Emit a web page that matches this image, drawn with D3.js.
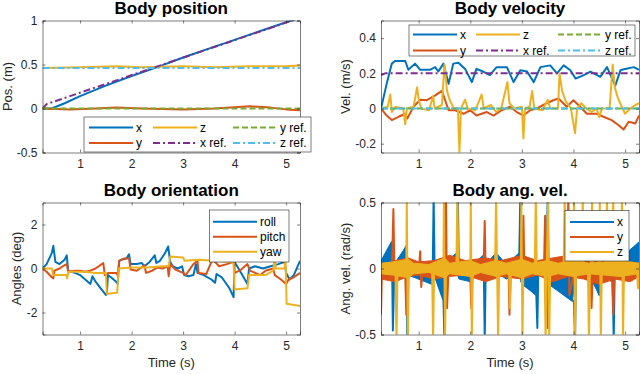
<!DOCTYPE html>
<html>
<head>
<meta charset="utf-8">
<script src="https://cdn.jsdelivr.net/npm/d3@7"></script>
<style>
  body { margin: 0; background: #fff; }
  svg { display: block; font-family: "Liberation Sans", Arial, sans-serif; }
</style>
</head>
<body>
<script>
// time axis shared by all four panels
var T_RANGE = [0.27, 5.27];
var T_TICKS = [1, 2, 3, 4, 5];

// body position (m)
var posX = [[0.27,0],[0.45,0],[0.7,0.06],[1.0,0.14],[1.5,0.26],[2.0,0.37],[2.5,0.47],[3.0,0.58],[3.5,0.68],[4.0,0.78],[4.5,0.88],[5.1,1.0],[5.27,1.03]];
var posY = [[0.27,0],[0.8,-0.01],[1.3,0],[1.7,0.01],[2.2,0],[3.0,-0.01],[3.6,0],[4.3,0.025],[4.7,0.01],[5.0,-0.01],[5.27,-0.02]];
var posZ = [[0.27,0.46],[1.0,0.47],[1.7,0.48],[2.2,0.47],[3.0,0.48],[3.6,0.47],[4.3,0.48],[5.0,0.48],[5.27,0.49]];
var posXref = [[0.27,0],[0.35,0.05],[5.27,1.03]];
var posYref = [[0.27,0],[5.27,0]];
var posZref = [[0.27,0.46],[5.27,0.46]];

// body velocity (m/s)
var velX = [[0.27,0],[0.38,0.14],[0.48,0.255],[0.54,0.27],[0.74,0.27],[0.8,0.22],[0.93,0.255],[1.03,0.22],[1.22,0.22],[1.32,0.235],[1.38,0.21],[1.48,0.255],[1.58,0.14],[1.67,0.255],[1.77,0.26],[1.9,0.225],[2.03,0.15],[2.12,0.225],[2.25,0.21],[2.38,0.19],[2.51,0.235],[2.71,0.235],[2.84,0.15],[2.97,0.217],[3.1,0.21],[3.23,0.15],[3.36,0.235],[3.55,0.245],[3.68,0.2],[3.81,0.245],[3.94,0.217],[4.04,0.17],[4.2,0.19],[4.33,0.21],[4.52,0.18],[4.65,0.235],[4.81,0.13],[4.91,0.217],[5.0,0.225],[5.17,0.235],[5.27,0.22]];
var velY = [[0.27,0],[0.38,-0.04],[0.48,-0.066],[0.61,-0.047],[0.74,-0.03],[0.78,-0.057],[0.9,0.01],[1.03,0.05],[1.16,0.047],[1.32,0.075],[1.45,0.1],[1.58,-0.01],[1.71,-0.01],[1.87,-0.03],[2.0,-0.01],[2.12,-0.04],[2.32,-0.02],[2.45,-0.04],[2.61,-0.01],[2.77,0.01],[2.9,-0.02],[3.03,-0.04],[3.16,-0.01],[3.29,0],[3.48,0.03],[3.61,0.047],[3.71,0.057],[3.87,0.01],[4.0,0.047],[4.13,0.01],[4.26,-0.03],[4.45,-0.03],[4.58,-0.047],[4.74,-0.066],[4.87,-0.094],[4.97,-0.12],[5.07,-0.075],[5.2,-0.085],[5.27,-0.04]];
var velZ = [[0.27,0],[0.4,0.01],[0.45,0.08],[0.48,-0.02],[0.55,0.01],[0.7,0],[0.74,-0.09],[0.77,0],[0.9,0.01],[0.97,0.12],[1.0,0.05],[1.05,0],[1.2,-0.01],[1.28,0.07],[1.31,0],[1.45,0.02],[1.5,0.25],[1.55,0.1],[1.6,0.05],[1.68,0],[1.76,0],[1.79,-0.25],[1.82,0],[1.9,0.05],[1.95,0],[2.1,-0.01],[2.22,0.08],[2.26,0],[2.4,0.02],[2.5,-0.02],[2.6,0],[2.72,0.15],[2.76,0.03],[2.85,0],[3.0,0.01],[3.03,-0.17],[3.06,0],[3.15,0.01],[3.2,0.1],[3.24,0],[3.4,-0.01],[3.5,0.05],[3.55,0],[3.7,0],[3.73,0.2],[3.78,0.1],[3.85,0.04],[3.95,0],[4.03,-0.14],[4.07,0],[4.15,0.03],[4.25,0],[4.35,-0.02],[4.45,0],[4.5,-0.05],[4.55,0],[4.7,0],[4.76,0.25],[4.8,0.12],[4.86,0.06],[4.92,0.02],[5.0,-0.03],[5.1,0],[5.2,0.02],[5.27,0.03]];
var velXref = [[0.27,0.19],[0.35,0.2],[5.27,0.2]];
var velYref = [[0.27,0],[5.27,0]];
var velZref = [[0.27,0],[5.27,0]];

// body orientation (deg)
var roll = [[0.27,0],[0.35,0.2],[0.45,0.7],[0.48,1.03],[0.52,0.3],[0.6,0.2],[0.7,0.4],[0.74,0.6],[0.77,-0.1],[0.9,-0.2],[1.0,-0.3],[1.1,-0.5],[1.2,-0.7],[1.24,-0.35],[1.3,-0.6],[1.4,-0.9],[1.5,-1.2],[1.52,-1.15],[1.54,-0.3],[1.6,-0.4],[1.7,-0.6],[1.73,-0.7],[1.76,0.35],[1.8,0.4],[1.9,0.45],[1.95,0.65],[1.98,0.2],[2.1,0.2],[2.2,0.25],[2.25,0.1],[2.35,0.3],[2.45,0.6],[2.48,0.25],[2.55,0.35],[2.65,0.7],[2.71,1.0],[2.75,0.3],[2.8,0.1],[2.9,0],[2.98,0.1],[3.02,-0.3],[3.1,-0.35],[3.2,-0.3],[3.25,0.2],[3.28,-0.2],[3.4,-0.3],[3.55,-0.5],[3.62,-0.65],[3.65,-0.25],[3.75,-0.4],[3.9,-0.9],[3.98,-1.3],[4.0,0.3],[4.05,0.1],[4.15,-0.3],[4.25,-0.7],[4.28,0],[4.4,0.1],[4.55,0],[4.7,0.1],[4.85,0.2],[4.97,0.3],[5.0,-0.2],[5.07,-0.5],[5.15,-0.3],[5.27,0.35]];
var pitch = [[0.27,0],[0.35,-0.15],[0.45,-0.4],[0.48,-0.45],[0.5,-0.1],[0.6,0],[0.7,0.15],[0.74,0.2],[0.77,-0.15],[0.9,-0.1],[1.0,-0.1],[1.1,-0.15],[1.2,-0.1],[1.3,0],[1.45,0.25],[1.48,-0.3],[1.55,-0.2],[1.7,-0.2],[1.73,-0.3],[1.76,0.35],[1.85,0.45],[1.95,0.45],[1.98,-0.05],[2.1,-0.1],[2.25,0.15],[2.28,-0.2],[2.4,-0.1],[2.5,0.05],[2.6,0],[2.7,0.1],[2.72,-0.35],[2.75,0.2],[2.85,-0.05],[3.0,-0.2],[3.05,-0.3],[3.2,0.2],[3.28,0.35],[3.3,-0.2],[3.45,-0.25],[3.55,0.3],[3.6,0.35],[3.7,0.1],[3.85,0.2],[3.98,0.3],[4.0,-0.2],[4.1,-0.1],[4.25,0.2],[4.3,-0.1],[4.4,-0.2],[4.5,-0.3],[4.6,-0.1],[4.75,0],[4.78,-0.3],[4.9,-0.5],[5.0,-0.7],[5.05,-0.5],[5.15,-0.4],[5.27,-0.2]];
var yaw = [[0.27,0],[0.45,0],[0.48,-0.3],[0.73,-0.3],[0.75,-0.45],[0.77,-0.15],[1.1,-0.15],[1.3,-0.2],[1.5,-0.2],[1.52,-1.15],[1.72,-1.1],[1.75,0],[2.0,0.05],[2.3,0.05],[2.6,0.1],[2.72,0.1],[2.75,0.55],[3.0,0.5],[3.03,0.35],[3.3,0.4],[3.6,0.35],[3.9,0.3],[3.98,0.3],[4.0,-0.95],[4.25,-0.9],[4.28,-0.3],[4.6,-0.3],[4.75,-0.1],[4.78,0.5],[4.8,0],[4.97,0],[4.99,0.5],[5.01,-1.6],[5.27,-1.7]];

// body angular velocity (rad/s): spikes as lines, fast oscillation as [t, low, high] envelopes
var angX = [[0.27,0.05],[0.48,0.2],[0.5,-0.47],[0.53,0],[0.6,0.03],[0.76,0.17],[0.78,-0.55],[0.8,-0.03],[1.27,-0.1],[1.29,0.55],[1.31,-0.05],[1.48,-0.24],[1.5,-0.55],[1.52,0],[1.74,0.08],[1.76,0.55],[1.78,-0.05],[2.0,-0.08],[2.02,0],[2.26,0.08],[2.28,-0.55],[2.3,0.02],[2.5,0.1],[2.7,-0.04],[2.95,0.1],[2.97,0.55],[2.99,-0.1],[3.28,-0.2],[3.3,-0.45],[3.32,0.03],[3.48,0.03],[3.5,0.55],[3.52,-0.1],[4.01,-0.25],[4.03,-0.55],[4.05,0.04],[4.3,0],[4.5,-0.2],[4.55,0],[4.76,-0.08],[4.78,-0.55],[4.8,0],[5.1,0.05],[5.27,0.2]];
var angXBand = [[0.27,0,0.05],[0.5,-0.05,0.2],[0.52,-0.03,0.03],[0.76,-0.03,0.17],[0.8,-0.05,0.02],[1.25,-0.12,0.02],[1.3,-0.05,0.03],[1.48,-0.24,0.03],[1.52,-0.03,0.05],[1.74,-0.03,0.12],[1.78,-0.08,0.03],[2.0,-0.1,0.03],[2.05,-0.03,0.03],[2.25,-0.03,0.1],[2.3,-0.03,0.03],[2.5,-0.03,0.12],[2.7,-0.08,0.03],[2.95,-0.03,0.12],[3.0,-0.12,0.03],[3.28,-0.2,0.03],[3.32,-0.03,0.05],[3.48,-0.03,0.05],[3.52,-0.12,0.03],[3.98,-0.25,0.03],[4.05,-0.03,0.06],[4.3,-0.05,0.03],[4.5,-0.2,0.03],[4.55,-0.03,0.03],[4.78,-0.1,0.03],[4.82,-0.03,0.05],[5.27,-0.03,0.2]];
var angY = [[0.27,-0.35],[0.29,0.02],[0.48,-0.05],[0.51,0.45],[0.53,0],[0.74,-0.04],[0.76,-0.35],[0.79,0.04],[1.01,0.03],[1.03,0.13],[1.05,-0.14],[1.08,0],[1.51,0.05],[1.53,0.55],[1.55,-0.3],[1.58,0],[2.0,-0.05],[2.02,-0.3],[2.05,0.02],[2.26,0.03],[2.28,0.36],[2.3,-0.05],[2.74,0.03],[2.76,-0.35],[2.79,0.04],[3.01,0.03],[3.03,0.4],[3.05,-0.05],[3.43,0.03],[3.45,0.4],[3.5,-0.45],[3.53,0.02],[3.88,0.06],[3.9,0.55],[3.92,-0.2],[4.0,-0.05],[4.33,0.04],[4.35,-0.3],[4.38,0.02],[4.75,-0.1],[4.77,-0.35],[4.8,0.05],[5.27,0]];
var angYBand = [[0.27,-0.08,0.02],[0.55,-0.1,0.06],[0.8,-0.06,0.08],[1.0,-0.05,0.05],[1.3,-0.08,0.06],[1.6,-0.06,0.1],[1.9,-0.05,0.06],[2.3,-0.1,0.08],[2.6,-0.06,0.06],[3.0,-0.08,0.1],[3.3,-0.05,0.06],[3.6,-0.1,0.08],[3.9,-0.06,0.1],[4.2,-0.08,0.06],[4.5,-0.12,0.05],[4.8,-0.08,0.06],[5.1,-0.1,0.05],[5.27,-0.06,0.04]];
var angZ = [[0.27,0],[0.55,0],[0.57,-0.55],[0.59,0],[0.76,0],[0.77,0.55],[0.79,-0.55],[0.81,0],[1.26,0],[1.28,-0.55],[1.3,0],[1.48,0],[1.49,0.55],[1.51,-0.55],[1.53,0],[1.73,0],[1.75,0.55],[1.77,0],[2.0,0],[2.01,0.55],[2.03,-0.55],[2.05,0],[2.48,0],[2.5,0.55],[2.52,0],[2.54,-0.55],[2.56,0],[2.75,0],[2.77,-0.3],[2.79,0],[2.98,0],[2.99,0.55],[3.01,-0.55],[3.03,0],[3.25,0],[3.27,0.55],[3.29,0],[3.44,0],[3.46,-0.55],[3.48,0],[3.51,0.55],[3.53,-0.55],[3.55,0],[3.81,0],[3.83,0.55],[3.85,0],[4.0,0],[4.01,0.55],[4.03,-0.55],[4.05,0],[4.16,0],[4.18,0.55],[4.2,0],[4.28,0],[4.3,-0.55],[4.32,0],[4.34,0],[4.36,0.55],[4.38,0],[4.5,0],[4.51,0.55],[4.53,-0.55],[4.55,0],[4.63,0],[4.65,0.55],[4.67,0],[4.75,0],[4.77,0.55],[4.79,0],[4.92,0],[4.94,0.55],[4.96,-0.55],[4.98,0],[5.23,0],[5.25,-0.15],[5.27,0]];
var angZBand = [[0.27,-0.04,0.04],[0.5,-0.05,0.05],[0.8,-0.07,0.07],[0.9,-0.04,0.04],[1.2,-0.03,0.03],[1.5,-0.07,0.08],[1.6,-0.04,0.04],[2.0,-0.06,0.06],[2.2,-0.03,0.03],[2.5,-0.06,0.06],[2.7,-0.04,0.04],[3.0,-0.07,0.07],[3.2,-0.04,0.04],[3.5,-0.06,0.06],[3.7,-0.04,0.04],[4.0,-0.06,0.06],[4.3,-0.04,0.04],[4.6,-0.05,0.05],[4.9,-0.06,0.06],[5.27,-0.04,0.04]];

// MATLAB default line colours
var C_BLUE = "#0072BD", C_RED = "#D95319", C_YEL = "#EDB120",
    C_PUR = "#7E2F8E", C_GRN = "#77AC30", C_CYA = "#4DBEEE";
var DASH = "6,3";
var DASHDOT = "7,3,2,3";
var AXIS_COL = "#262626";

var svg = d3.select("body").append("svg")
  .attr("width", 640).attr("height", 374);

function makePanel(cfg){
  // one MATLAB style axes box with ticks on all four sides
  var x = d3.scaleLinear().domain(T_RANGE).range([cfg.left, cfg.right]);
  var y = d3.scaleLinear().domain(cfg.yDomain).range([cfg.bottom, cfg.top]);
  var g = svg.append("g").attr("id", cfg.id);

  var clipId = cfg.id + "-clip";
  g.append("clipPath").attr("id", clipId)
    .append("rect")
    .attr("x", cfg.left).attr("y", cfg.top)
    .attr("width", cfg.right - cfg.left).attr("height", cfg.bottom - cfg.top);

  var line = d3.line().x(function(d){ return x(d[0]); }).y(function(d){ return y(d[1]); });
  var band = d3.area()
    .x(function(d){ return x(d[0]); })
    .y0(function(d){ return y(d[1]); })
    .y1(function(d){ return y(d[2]); });

  var plot = g.append("g").attr("clip-path", "url(#" + clipId + ")");
  cfg.series.forEach(function(s){
    if(s.band){
      plot.append("path")
        .attr("d", band(s.band))
        .attr("fill", s.color)
        .attr("stroke", s.color)
        .attr("stroke-width", 1);
    }
    plot.append("path")
      .attr("d", line(s.data))
      .attr("fill", "none")
      .attr("stroke", s.color)
      .attr("stroke-width", 2)
      .attr("stroke-linejoin", "round")
      .attr("stroke-dasharray", s.dash || null);
  });

  // axes: inner ticks, left + bottom labelled, top + right mirrored
  var tl = 3;
  var bottomAx = d3.axisBottom(x).tickValues(T_TICKS).tickSize(-tl).tickPadding(7).tickFormat(d3.format("d"));
  var topAx = d3.axisTop(x).tickValues(T_TICKS).tickSize(-tl).tickFormat("");
  var leftAx = d3.axisLeft(y).tickValues(cfg.yTicks).tickSize(-tl).tickPadding(5).tickFormat(function(d){ return String(d); });
  var rightAx = d3.axisRight(y).tickValues(cfg.yTicks).tickSize(-tl).tickFormat("");

  var axes = [
    g.append("g").attr("transform", "translate(0," + cfg.bottom + ")").call(bottomAx),
    g.append("g").attr("transform", "translate(0," + cfg.top + ")").call(topAx),
    g.append("g").attr("transform", "translate(" + cfg.left + ",0)").call(leftAx),
    g.append("g").attr("transform", "translate(" + cfg.right + ",0)").call(rightAx)
  ];
  axes.forEach(function(a){
    a.select(".domain").attr("stroke", AXIS_COL).attr("stroke-width", 0.6);
    a.selectAll(".tick line").attr("stroke", AXIS_COL).attr("stroke-width", 0.6);
    a.selectAll(".tick text").attr("fill", AXIS_COL)
      .style("font-family", "'Liberation Sans', Arial, sans-serif").style("font-size", "12px");
  });

  // title
  g.append("text")
    .attr("x", (cfg.left + cfg.right) / 2).attr("y", cfg.top - 7)
    .attr("text-anchor", "middle")
    .attr("font-size", 17).attr("font-weight", "bold")
    .attr("fill", "#000")
    .text(cfg.title);

  // y label
  g.append("text")
    .attr("transform", "translate(" + cfg.yLabelX + "," + (cfg.top + cfg.bottom) / 2 + ") rotate(-90)")
    .attr("text-anchor", "middle")
    .attr("font-size", 13).attr("fill", AXIS_COL)
    .text(cfg.yLabel);

  if(cfg.xLabel){
    g.append("text")
      .attr("x", (cfg.left + cfg.right) / 2).attr("y", cfg.bottom + 32)
      .attr("text-anchor", "middle")
      .attr("font-size", 13).attr("fill", AXIS_COL)
      .text(cfg.xLabel);
  }

  makeLegend(g, cfg.legend, cfg.series);
}

function makeLegend(g, lg, series){
  var box = g.append("g");
  box.append("rect")
    .attr("x", lg.x).attr("y", lg.y).attr("width", lg.w).attr("height", lg.h)
    .attr("fill", "#fff").attr("stroke", AXIS_COL).attr("stroke-width", 0.6);
  series.forEach(function(s, i){
    var col = Math.floor(i / lg.rows.length);
    var row = i % lg.rows.length;
    var x0 = lg.cols[col], yy = lg.rows[row];
    box.append("line")
      .attr("x1", x0).attr("x2", x0 + 44)
      .attr("y1", yy).attr("y2", yy)
      .attr("stroke", s.color).attr("stroke-width", 2)
      .attr("stroke-dasharray", s.dash || null);
    box.append("text")
      .attr("x", x0 + 47).attr("y", yy).attr("dy", "0.35em")
      .attr("font-size", 12).attr("fill", "#000")
      .text(s.label);
  });
}

makePanel({
  id: "pos", title: "Body position", yLabel: "Pos. (m)", yLabelX: 12,
  left: 42.5, right: 300, top: 20.5, bottom: 152.5,
  yDomain: [-0.5, 1], yTicks: [-0.5, 0, 0.5, 1],
  series: [
    {label: "x", data: posX, color: C_BLUE},
    {label: "y", data: posY, color: C_RED},
    {label: "z", data: posZ, color: C_YEL},
    {label: "x ref.", data: posXref, color: C_PUR, dash: DASHDOT},
    {label: "y ref.", data: posYref, color: C_GRN, dash: DASH},
    {label: "z ref.", data: posZref, color: C_CYA, dash: DASHDOT}
  ],
  legend: {x: 84, y: 117, w: 227, h: 35, cols: [89, 153, 233], rows: [127.5, 143]}
});

makePanel({
  id: "vel", title: "Body velocity", yLabel: "Vel. (m/s)", yLabelX: 350,
  left: 381, right: 639, top: 20.5, bottom: 152.5,
  yDomain: [-0.25, 0.5], yTicks: [-0.2, 0, 0.2, 0.4],
  series: [
    {label: "x", data: velX, color: C_BLUE},
    {label: "y", data: velY, color: C_RED},
    {label: "z", data: velZ, color: C_YEL},
    {label: "x ref.", data: velXref, color: C_PUR, dash: DASHDOT},
    {label: "y ref.", data: velYref, color: C_GRN, dash: DASH},
    {label: "z ref.", data: velZref, color: C_CYA, dash: DASHDOT}
  ],
  legend: {x: 409, y: 25, w: 226, h: 31, cols: [413, 476, 558], rows: [34.5, 50.5]}
});

makePanel({
  id: "ori", title: "Body orientation", yLabel: "Angles (deg)", yLabelX: 21, xLabel: "Time (s)",
  left: 42.5, right: 300, top: 202.5, bottom: 334.5,
  yDomain: [-3, 3], yTicks: [-2, 0, 2],
  series: [
    {label: "roll", data: roll, color: C_BLUE},
    {label: "pitch", data: pitch, color: C_RED},
    {label: "yaw", data: yaw, color: C_YEL}
  ],
  legend: {x: 209.5, y: 210, w: 79.5, h: 52, cols: [213], rows: [221.7, 236.7, 251.7]}
});

makePanel({
  id: "angvel", title: "Body ang. vel.", yLabel: "Ang. vel. (rad/s)", yLabelX: 350, xLabel: "Time (s)",
  left: 381, right: 639, top: 202.5, bottom: 334.5,
  yDomain: [-0.5, 0.5], yTicks: [-0.5, 0, 0.5],
  series: [
    {label: "x", data: angX, band: angXBand, color: C_BLUE},
    {label: "y", data: angY, band: angYBand, color: C_RED},
    {label: "z", data: angZ, band: angZBand, color: C_YEL}
  ],
  legend: {x: 565, y: 210.5, w: 64, h: 50.5, cols: [570], rows: [222, 237, 252]}
});
</script>
</body>
</html>
